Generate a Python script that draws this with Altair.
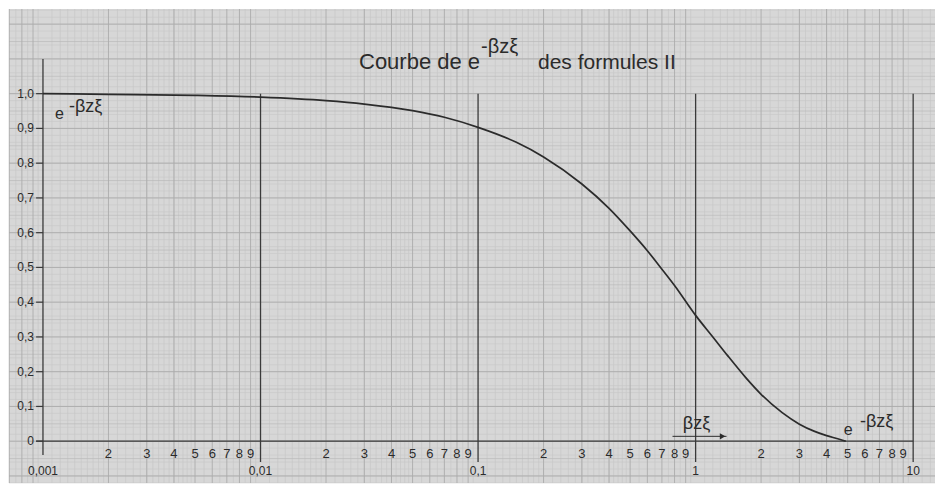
import altair as alt
import pandas as pd
import numpy as np

# ---- data ----
x_vals = [0.001, 0.002, 0.005, 0.01, 0.02, 0.03, 0.05, 0.07, 0.1, 0.15, 0.2, 0.3,
          0.4, 0.5, 0.6, 0.7, 0.8, 1.0, 1.2, 1.4, 1.7, 2.0, 2.5, 3.0, 3.5, 4.0, 4.5, 4.9]
y_vals = [1.0, 0.998, 0.995, 0.99, 0.98, 0.97, 0.951, 0.932, 0.903, 0.86, 0.818, 0.74,
          0.67, 0.605, 0.548, 0.495, 0.448, 0.362, 0.30, 0.247, 0.183, 0.135, 0.082,
          0.049, 0.029, 0.016, 0.007, 0.0]

y_tick_vals = [0.0, 0.1, 0.2, 0.3, 0.4, 0.5, 0.6, 0.7, 0.8, 0.9, 1.0]
y_tick_labels = ["0", "0,1", "0,2", "0,3", "0,4", "0,5", "0,6", "0,7", "0,8", "0,9", "1,0"]
decade_vals = [0.001, 0.01, 0.1, 1, 10]
decade_labels = ["0,001", "0,01", "0,1", "1", "10"]
minor_mult = [2, 3, 4, 5, 6, 7, 8, 9]

title_parts = ["Courbe de e", "-βzξ", "des formules II"]

# ---- layout constants ----
XDOM = [0.000698, 12.6]
YDOM = [-0.1203, 1.2436]
FONT = "Liberation Sans Narrow, Liberation Sans, Arial, sans-serif"
INK = "#2b2b2b"

xs = alt.Scale(type="log", domain=XDOM, nice=False, zero=False)
ys = alt.Scale(domain=YDOM, nice=False, zero=False)

def X(f="x"):
    return alt.X(f"{f}:Q", scale=xs, axis=None)

def Y(f="y"):
    return alt.Y(f"{f}:Q", scale=ys, axis=None)

# ---- graph paper ----
fine_m = list(np.round(np.arange(1.1, 2.0, 0.1), 2)) + list(np.round(np.arange(2.2, 5.0, 0.2), 2)) \
    + list(np.round(np.arange(5.5, 10.0, 1.0), 2))
vfine, vmed = [], []
for d in range(-4, 2):
    b = 10.0 ** d
    for m in fine_m:
        v = m * b
        if XDOM[0] <= v <= XDOM[1]:
            vfine.append(v)
    for m in minor_mult:
        v = m * b
        if XDOM[0] <= v <= XDOM[1]:
            vmed.append(v)
    if XDOM[0] <= b <= XDOM[1] and b not in decade_vals:
        vmed.append(b)

hfine = [round(v, 3) for v in np.arange(-0.12, 1.25, 0.02)]
hmed = [round(v, 2) for v in np.arange(-0.1, 1.25, 0.1)]
hhalf = [round(v, 2) for v in np.arange(-0.05, 1.25, 0.1)]

layers = []
layers.append(alt.Chart(pd.DataFrame({"x": vfine})).mark_rule(color="#c4c4c4", strokeWidth=0.6).encode(x=X()))
layers.append(alt.Chart(pd.DataFrame({"y": hfine})).mark_rule(color="#c8c8c8", strokeWidth=0.6).encode(y=Y()))
layers.append(alt.Chart(pd.DataFrame({"y": hhalf})).mark_rule(color="#bababa", strokeWidth=0.7).encode(y=Y()))
layers.append(alt.Chart(pd.DataFrame({"x": vmed})).mark_rule(color="#acacac", strokeWidth=0.9).encode(x=X()))
layers.append(alt.Chart(pd.DataFrame({"y": hmed})).mark_rule(color="#acacac", strokeWidth=0.9).encode(y=Y()))

# heavy decade lines
dec_df = pd.DataFrame({
    "x": decade_vals,
    "y": [1.1, 1.0, 1.0, 1.0, 1.0],
    "y2": [-0.04, -0.06, -0.06, -0.06, -0.06],
})
layers.append(alt.Chart(dec_df).mark_rule(color="#3a3a3a", strokeWidth=1.3).encode(
    x=X(), y=Y(), y2="y2:Q"))

# x axis line
layers.append(alt.Chart(pd.DataFrame({"x": [0.00093], "x2": [10.0], "y": [0.0]})).mark_rule(
    color="#3a3a3a", strokeWidth=1.3).encode(x=X(), x2="x2:Q", y=Y()))

# y ticks
yt = pd.DataFrame({"y": y_tick_vals, "lab": y_tick_labels, "x": 0.00093, "x2": 0.001})
layers.append(alt.Chart(yt).mark_rule(color="#3a3a3a", strokeWidth=1.2).encode(
    x=X(), x2="x2:Q", y=Y()))
layers.append(alt.Chart(yt).mark_text(align="right", baseline="middle", dx=-9, fontSize=12,
                                      font=FONT, color=INK).encode(
    x=alt.X("x2:Q", scale=xs, axis=None), y=Y(), text="lab:N"))

# x labels
minor_rows = []
for d in range(-3, 1):
    for m in minor_mult:
        minor_rows.append({"x": m * 10.0 ** d, "lab": str(m), "y": 0.0})
layers.append(alt.Chart(pd.DataFrame(minor_rows)).mark_text(
    baseline="middle", dy=13, fontSize=13, font=FONT, color=INK).encode(
    x=X(), y=Y(), text="lab:N"))
layers.append(alt.Chart(pd.DataFrame({"x": decade_vals, "lab": decade_labels, "y": 0.0})).mark_text(
    baseline="middle", dy=30, fontSize=12, font=FONT, color=INK).encode(
    x=X(), y=Y(), text="lab:N"))

# the curve
curve = pd.DataFrame({"x": x_vals, "y": y_vals})
layers.append(alt.Chart(curve).mark_line(color=INK, strokeWidth=1.7, interpolate="monotone").encode(
    x=X(), y=Y()))

# annotations (data coordinates, alphabetic baseline)
ann = pd.DataFrame([
    {"x": 0.00119, "y": 0.928, "t": "e", "s": 16},
    {"x": 0.00157, "y": 0.946, "t": "-βzξ", "s": 18},
    {"x": 5.03, "y": 0.017, "t": "e", "s": 16},
    {"x": 6.8, "y": 0.040, "t": "-βzξ", "s": 18},
    {"x": 1.01, "y": 0.035, "t": "βzξ", "s": 18},
])
layers.append(alt.Chart(ann).mark_text(baseline="alphabetic", font=FONT, color=INK).encode(
    x=X(), y=Y(), text="t:N", size=alt.Size("s:Q", scale=None, legend=None)))

# arrow under βzξ
layers.append(alt.Chart(pd.DataFrame({"x": [0.783], "x2": [1.387], "y": [0.014]})).mark_rule(
    color=INK, strokeWidth=1.0).encode(x=X(), x2="x2:Q", y=Y()))
layers.append(alt.Chart(pd.DataFrame({"x": [1.33], "y": [0.014]})).mark_point(
    shape="triangle-right", filled=True, color=INK, size=40, opacity=1).encode(x=X(), y=Y()))

# title (pixel positions, alphabetic baseline)
title_df = pd.DataFrame({
    "t": title_parts,
    "px": [350, 472, 529],
    "py": [60, 44, 60],
    "s": [22, 20, 21],
})
layers.append(alt.Chart(title_df).mark_text(align="left", baseline="alphabetic", font=FONT, color=INK).encode(
    x=alt.X("px:Q", scale=None), y=alt.Y("py:Q", scale=None), text="t:N",
    size=alt.Size("s:Q", scale=None, legend=None)))

chart = alt.layer(*layers).properties(
    width=928, height=476,
    autosize=alt.AutoSizeParams(type="fit", contains="padding"),
    padding=0, background="white",
).configure_view(fill="#d7d7d7", stroke=None)

chart.save("out.html", embed_options={"renderer": "svg", "actions": False})
